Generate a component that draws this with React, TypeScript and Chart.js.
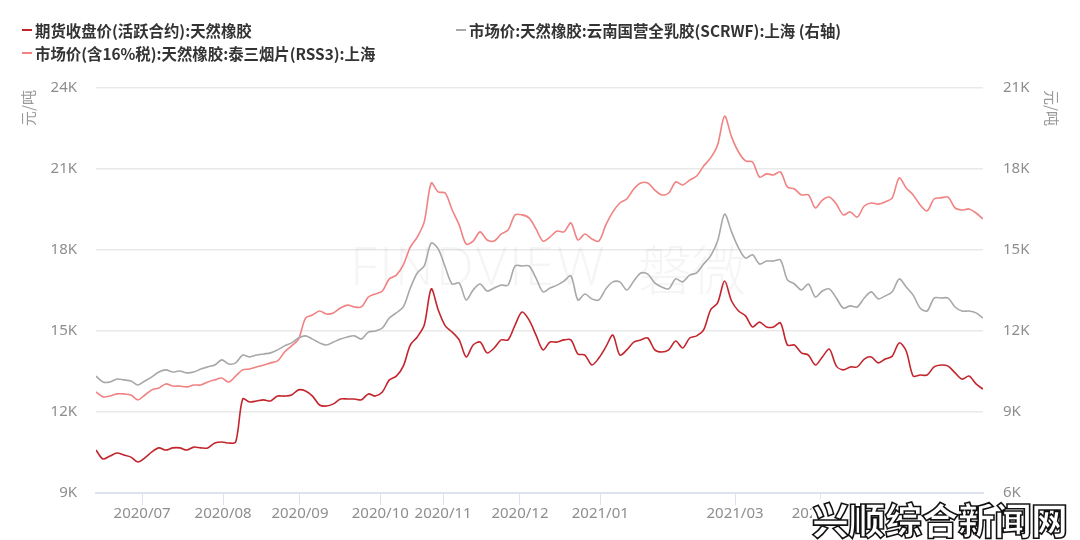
import React, { useEffect, useRef } from 'react';
import { Chart, registerables } from 'chart.js';

Chart.register(...registerables);

// 期货收盘价(活跃合约):天然橡胶 (left axis, 元/吨)
const futures = [
  10590, 10260, 10370, 10480, 10410, 10330, 10150, 10300, 10520, 10670,
  10590, 10670, 10670, 10590, 10700, 10670, 10670, 10850, 10890, 10850,
  10890, 12480, 12370, 12410, 12450, 12410, 12590, 12590, 12630, 12820,
  12780, 12590, 12260, 12220, 12300, 12480, 12480, 12480, 12450, 12670,
  12590, 12740, 13190, 13330, 13700, 14480, 14780, 15220, 16560, 15780,
  15190, 14960, 14670, 14040, 14480, 14590, 14190, 14370, 14670, 14670,
  15220, 15700, 15410, 14850, 14300, 14590, 14590, 14670, 14670, 14150,
  14110, 13740, 14000, 14410, 14850, 14110, 14300, 14590, 14670, 14740,
  14300, 14220, 14300, 14630, 14370, 14740, 14820, 15040, 15780, 16040,
  16850, 16110, 15740, 15560, 15150, 15330, 15150, 15150, 15300, 14480,
  14480, 14190, 14110, 13740, 14040, 14330, 13700, 13560, 13670, 13670,
  13960, 14040, 13820, 13960, 14070, 14560, 14260, 13330, 13370, 13370,
  13670, 13740, 13700, 13450, 13220, 13330, 13040, 12850,
];

// 市场价:天然橡胶:云南国营全乳胶(SCRWF):上海 (right axis)
const scrwf = [
  10330, 10110, 10110, 10220, 10190, 10150, 10000, 10150, 10300, 10480,
  10560, 10480, 10520, 10450, 10480, 10590, 10670, 10740, 10930, 10780,
  10820, 11110, 11040, 11110, 11150, 11190, 11300, 11450, 11560, 11740,
  11820, 11700, 11560, 11480, 11590, 11700, 11780, 11820, 11700, 11960,
  12000, 12110, 12480, 12670, 12890, 13590, 14150, 14410, 15260, 15040,
  14370, 13740, 13780, 13150, 13520, 13740, 13480, 13590, 13700, 13700,
  14410, 14410, 14410, 13960, 13450, 13590, 13700, 13850, 14040, 13150,
  13370, 13190, 13150, 13560, 13820, 13820, 13520, 13850, 14150, 14110,
  13780, 13630, 13560, 13930, 13820, 14070, 14150, 14480, 14780, 15330,
  16330, 15670, 15080, 14700, 14820, 14480, 14590, 14590, 14630, 13890,
  13740, 13520, 13740, 13260, 13480, 13560, 13220, 12850, 12930, 12890,
  13220, 13450, 13190, 13300, 13450, 13930, 13630, 13330, 12850, 12740,
  13220, 13220, 13220, 12890, 12740, 12740, 12670, 12480,
];

// 市场价(含16%税):天然橡胶:泰三烟片(RSS3):上海 (left axis)
const rss3 = [
  12740, 12560, 12590, 12670, 12670, 12630, 12450, 12630, 12820, 12890,
  13040, 12960, 12960, 12930, 13000, 13000, 13110, 13190, 13260, 13110,
  13330, 13560, 13590, 13670, 13740, 13820, 13890, 14220, 14450, 14700,
  15480, 15590, 15740, 15630, 15670, 15850, 15960, 15890, 15890, 16260,
  16370, 16480, 16930, 17070, 17450, 18110, 18480, 19040, 20480, 20150,
  20110, 19480, 18930, 18220, 18330, 18670, 18370, 18330, 18590, 18740,
  19300, 19300, 19190, 18780, 18330, 18480, 18700, 18670, 19000, 18370,
  18590, 18410, 18330, 18930, 19410, 19740, 19890, 20260, 20480, 20480,
  20220, 20040, 20110, 20520, 20410, 20590, 20740, 21110, 21410, 21890,
  22960, 22190, 21630, 21300, 21260, 20700, 20820, 20780, 20890, 20330,
  20260, 20040, 20040, 19560, 19850, 19960, 19700, 19300, 19410, 19220,
  19630, 19740, 19700, 19780, 19930, 20670, 20300, 20040, 19670, 19450,
  19890, 19930, 19960, 19560, 19480, 19520, 19370, 19150,
];

const xIndex = futures.map((_, i) => i);

const monthTickPos = [6.6, 18.2, 29.2, 40.7, 49.7, 60.7, 72.2, 91.5, 103.7];
const monthTickLabels = [
  '2020/07', '2020/08', '2020/09', '2020/10', '2020/11',
  '2020/12', '2021/01', '2021/03', '2021/04',
];

const seriesNames = [
  '期货收盘价(活跃合约):天然橡胶',
  '市场价:天然橡胶:云南国营全乳胶(SCRWF):上海 (右轴)',
  '市场价(含16%税):天然橡胶:泰三烟片(RSS3):上海',
];
const seriesColors = ['#c3252d', '#a8a8a8', '#f08282'];

const unitLabel = '元/吨';

const tickFont = { family: '"Noto Sans", "Open Sans", sans-serif', size: 15 };
const tickColor = '#8e8e8e';

const overlayPlugin = {
  id: 'overlayTexts',
  beforeDatasetsDraw(chart: any) {
    const ctx = chart.ctx;
    ctx.save();
    ctx.fillStyle = 'rgba(0,0,0,0.04)';
    ctx.textBaseline = 'middle';
    ctx.textAlign = 'left';
    ctx.font = '300 54px "Open Sans", "Noto Sans", sans-serif';
    try { (ctx as any).letterSpacing = '2px'; } catch (e) {}
    ctx.fillText('FINDVIEW', 350, 270);
    try { (ctx as any).letterSpacing = '0px'; } catch (e) {}
    ctx.font = '300 54px "Noto Sans CJK SC", sans-serif';
    ctx.fillText('磐微', 638, 270);
    ctx.restore();
  },
  afterDraw(chart: any) {
    const ctx = chart.ctx;
    ctx.save();
    ctx.fillStyle = '#999999';
    ctx.font = '15px "Noto Sans CJK SC", sans-serif';
    ctx.textAlign = 'center';
    ctx.textBaseline = 'middle';
    ctx.translate(28, 108);
    ctx.rotate(-Math.PI / 2);
    ctx.fillText(unitLabel, 0, 0);
    ctx.restore();
    ctx.save();
    ctx.fillStyle = '#999999';
    ctx.font = '15px "Noto Sans CJK SC", sans-serif';
    ctx.textAlign = 'center';
    ctx.textBaseline = 'middle';
    ctx.translate(1052, 108);
    ctx.rotate(Math.PI / 2);
    ctx.fillText(unitLabel, 0, 0);
    ctx.restore();
  },
};

function LegendItem({ left, top, color, text }: { left: number; top: number; color: string; text: string }) {
  return (
    <div
      style={{
        position: 'absolute',
        left,
        top,
        height: 20,
        display: 'flex',
        alignItems: 'center',
        fontFamily: '"Noto Sans CJK SC", sans-serif',
        fontWeight: 700,
        fontSize: 15.4,
        color: '#333',
        whiteSpace: 'nowrap',
      }}
    >
      <span style={{ display: 'inline-block', width: 10, height: 2, background: color, marginRight: 3 }} />
      <span>{text}</span>
    </div>
  );
}

export default function App() {
  const canvasRef = useRef<HTMLCanvasElement | null>(null);

  useEffect(() => {
    if (!canvasRef.current) return;
    const chart = new Chart(canvasRef.current, {
      type: 'line',
      data: {
        labels: xIndex as any,
        datasets: [
          {
            label: seriesNames[1],
            data: scrwf,
            borderColor: seriesColors[1],
            borderWidth: 1.6,
            pointRadius: 0,
            tension: 0.3,
            yAxisID: 'y1',
          },
          {
            label: seriesNames[2],
            data: rss3,
            borderColor: seriesColors[2],
            borderWidth: 1.6,
            pointRadius: 0,
            tension: 0.3,
            yAxisID: 'y',
          },
          {
            label: seriesNames[0],
            data: futures,
            borderColor: seriesColors[0],
            borderWidth: 1.6,
            pointRadius: 0,
            tension: 0.3,
            yAxisID: 'y',
          },
        ],
      },
      options: {
        responsive: false,
        animation: false,
        layout: { padding: { top: 88, left: 0, right: 0, bottom: 0 } },
        plugins: {
          legend: { display: false },
          tooltip: { enabled: false },
          title: { display: false },
        },
        scales: {
          x: {
            type: 'linear',
            min: 0,
            max: xIndex.length - 1,
            afterBuildTicks: (s: any) => {
              s.ticks = monthTickPos.map((v) => ({ value: v }));
            },
            afterFit: (s: any) => {
              s.height = 47;
            },
            ticks: {
              autoSkip: false,
              maxRotation: 0,
              minRotation: 0,
              padding: 0,
              color: tickColor,
              font: tickFont,
              callback: (_v: any, i: number) => monthTickLabels[i],
            },
            grid: {
              drawOnChartArea: false,
              drawTicks: true,
              tickLength: 12,
              color: '#dde3ee',
              lineWidth: 1,
            },
            border: { display: true, color: '#dde3ee', width: 2 },
          } as any,
          y: {
            position: 'left',
            min: 9000,
            max: 24000,
            afterFit: (s: any) => {
              s.width = 96;
            },
            ticks: {
              stepSize: 3000,
              padding: 19,
              color: tickColor,
              font: tickFont,
              callback: (v: any) => Number(v) / 1000 + 'K',
            },
            grid: { color: '#e9e9e9', lineWidth: 1.5, drawTicks: false },
            border: { display: false },
          } as any,
          y1: {
            position: 'right',
            min: 6000,
            max: 21000,
            afterFit: (s: any) => {
              s.width = 97;
            },
            ticks: {
              stepSize: 3000,
              padding: 20,
              color: tickColor,
              font: tickFont,
              callback: (v: any) => Number(v) / 1000 + 'K',
            },
            grid: { drawOnChartArea: false, drawTicks: false },
            border: { display: false },
          } as any,
        },
      },
      plugins: [overlayPlugin],
    });
    return () => chart.destroy();
  }, []);

  return (
    <div style={{ position: 'absolute', left: 0, top: 0, width: 1080, height: 540, background: '#fff', overflow: 'hidden' }}>
      <canvas ref={canvasRef} width={1080} height={540} style={{ position: 'absolute', left: 0, top: 0, width: 1080, height: 540 }} />
      <LegendItem left={22} top={20} color={seriesColors[0]} text={seriesNames[0]} />
      <LegendItem left={456} top={20} color={seriesColors[1]} text={seriesNames[1]} />
      <LegendItem left={22} top={43} color={seriesColors[2]} text={seriesNames[2]} />
      <div
        style={{
          position: 'absolute',
          left: 812,
          top: 499,
          height: 40,
          lineHeight: '40px',
          fontFamily: '"Noto Sans CJK SC", sans-serif',
          fontWeight: 900,
          fontSize: 37,
          letterSpacing: -0.5,
          color: '#fff',
          WebkitTextStroke: '1.6px #111',
          background: '#fff',
          whiteSpace: 'nowrap',
        }}
      >
        兴顺综合新闻网
      </div>
    </div>
  );
}
